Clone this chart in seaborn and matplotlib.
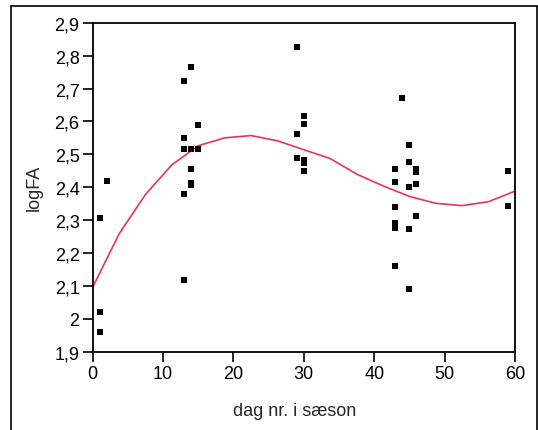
import matplotlib
matplotlib.use("Agg")
import matplotlib.pyplot as plt
from matplotlib.lines import Line2D
from matplotlib.ticker import FuncFormatter
import seaborn as sns
import pandas as pd

# Observations
day = [1, 1, 1, 2,
       13, 13, 13, 13, 13,
       14, 14, 14, 14, 14,
       15, 15,
       29, 29, 29,
       30, 30, 30, 30, 30,
       43, 43, 43, 43, 43, 43,
       44,
       45, 45, 45, 45, 45,
       46, 46, 46, 46,
       59, 59]
logfa = [2.305, 2.022, 1.961, 2.418,
         2.723, 2.550, 2.516, 2.378, 2.118,
         2.766, 2.516, 2.455, 2.412, 2.407,
         2.589, 2.516,
         2.827, 2.562, 2.489,
         2.616, 2.593, 2.484, 2.474, 2.449,
         2.455, 2.417, 2.339, 2.290, 2.277, 2.160,
         2.672,
         2.527, 2.478, 2.400, 2.272, 2.090,
         2.455, 2.445, 2.411, 2.311,
         2.449, 2.344]

# Smoothed fit curve
fit_x = [0, 3.75, 7.5, 11.25, 15, 18.75, 22.5, 26.25, 30, 33.75, 37.5,
         41.25, 45, 48.75, 52.5, 56.25, 60]
fit_y = [2.096, 2.258, 2.378, 2.468, 2.526, 2.550, 2.557, 2.541, 2.514,
         2.487, 2.440, 2.404, 2.372, 2.351, 2.344, 2.356, 2.388]

x_ticks = [0, 10, 20, 30, 40, 50, 60]
y_ticks = [1.9, 2.0, 2.1, 2.2, 2.3, 2.4, 2.5, 2.6, 2.7, 2.8, 2.9]

sns.set_style("ticks")
plt.rcParams["font.family"] = ["Liberation Sans", "DejaVu Sans"]

fig = plt.figure(figsize=(5.38, 4.31), dpi=100)
ax = fig.add_axes([0.1723, 0.1817, 0.9572 - 0.1723, 0.945 - 0.1817])

pts = pd.DataFrame({"day": day, "logFA": logfa})
fit = pd.DataFrame({"x": fit_x, "y": fit_y})

sns.lineplot(data=fit, x="x", y="y", ax=ax, color="#e8345a", linewidth=1.2,
             zorder=2)
sns.scatterplot(data=pts, x="day", y="logFA", ax=ax, marker="s", s=14,
                color="black", edgecolor="black", linewidth=0, zorder=3)

ax.set_xlim(0, 60)
ax.set_ylim(1.9, 2.9)
ax.set_xticks(x_ticks)
ax.set_yticks(y_ticks)


def comma(v, pos):
    s = f"{v:.1f}".rstrip("0").rstrip(".")
    return s.replace(".", ",")


ax.yaxis.set_major_formatter(FuncFormatter(comma))
ax.xaxis.set_major_formatter(FuncFormatter(lambda v, p: f"{int(round(v))}"))
for sp in ax.spines.values():
    sp.set_visible(True)
    sp.set_linewidth(1.3)
    sp.set_color("black")
ax.tick_params(axis="both", direction="out", length=7.5, width=1.2,
               labelsize=13, colors="black", pad=2)
ax.set_xlabel("dag nr. i sæson", fontsize=13)
ax.set_ylabel("logFA", fontsize=13)
ax.xaxis.set_label_coords(0.4775, (352.7 - 411.5) / (352.7 - 23.7),
                          transform=ax.transAxes)
ax.yaxis.set_label_coords((34 - 92.7) / (515 - 92.7), 0.5,
                          transform=ax.transAxes)
ax.xaxis.label.set_va("center")
ax.yaxis.label.set_va("center")

# outer frame
lw = 1.2
fig.add_artist(Line2D([0.0199, 0.0199], [-0.1, 0.9838], color="black", lw=lw,
                      transform=fig.transFigure))
fig.add_artist(Line2D([0.0199, 0.9976], [0.9838, 0.9838], color="black", lw=lw,
                      transform=fig.transFigure))
fig.add_artist(Line2D([0.9976, 0.9976], [-0.1, 0.9838], color="black", lw=lw,
                      transform=fig.transFigure))

fig.savefig("out.png", dpi=100)
